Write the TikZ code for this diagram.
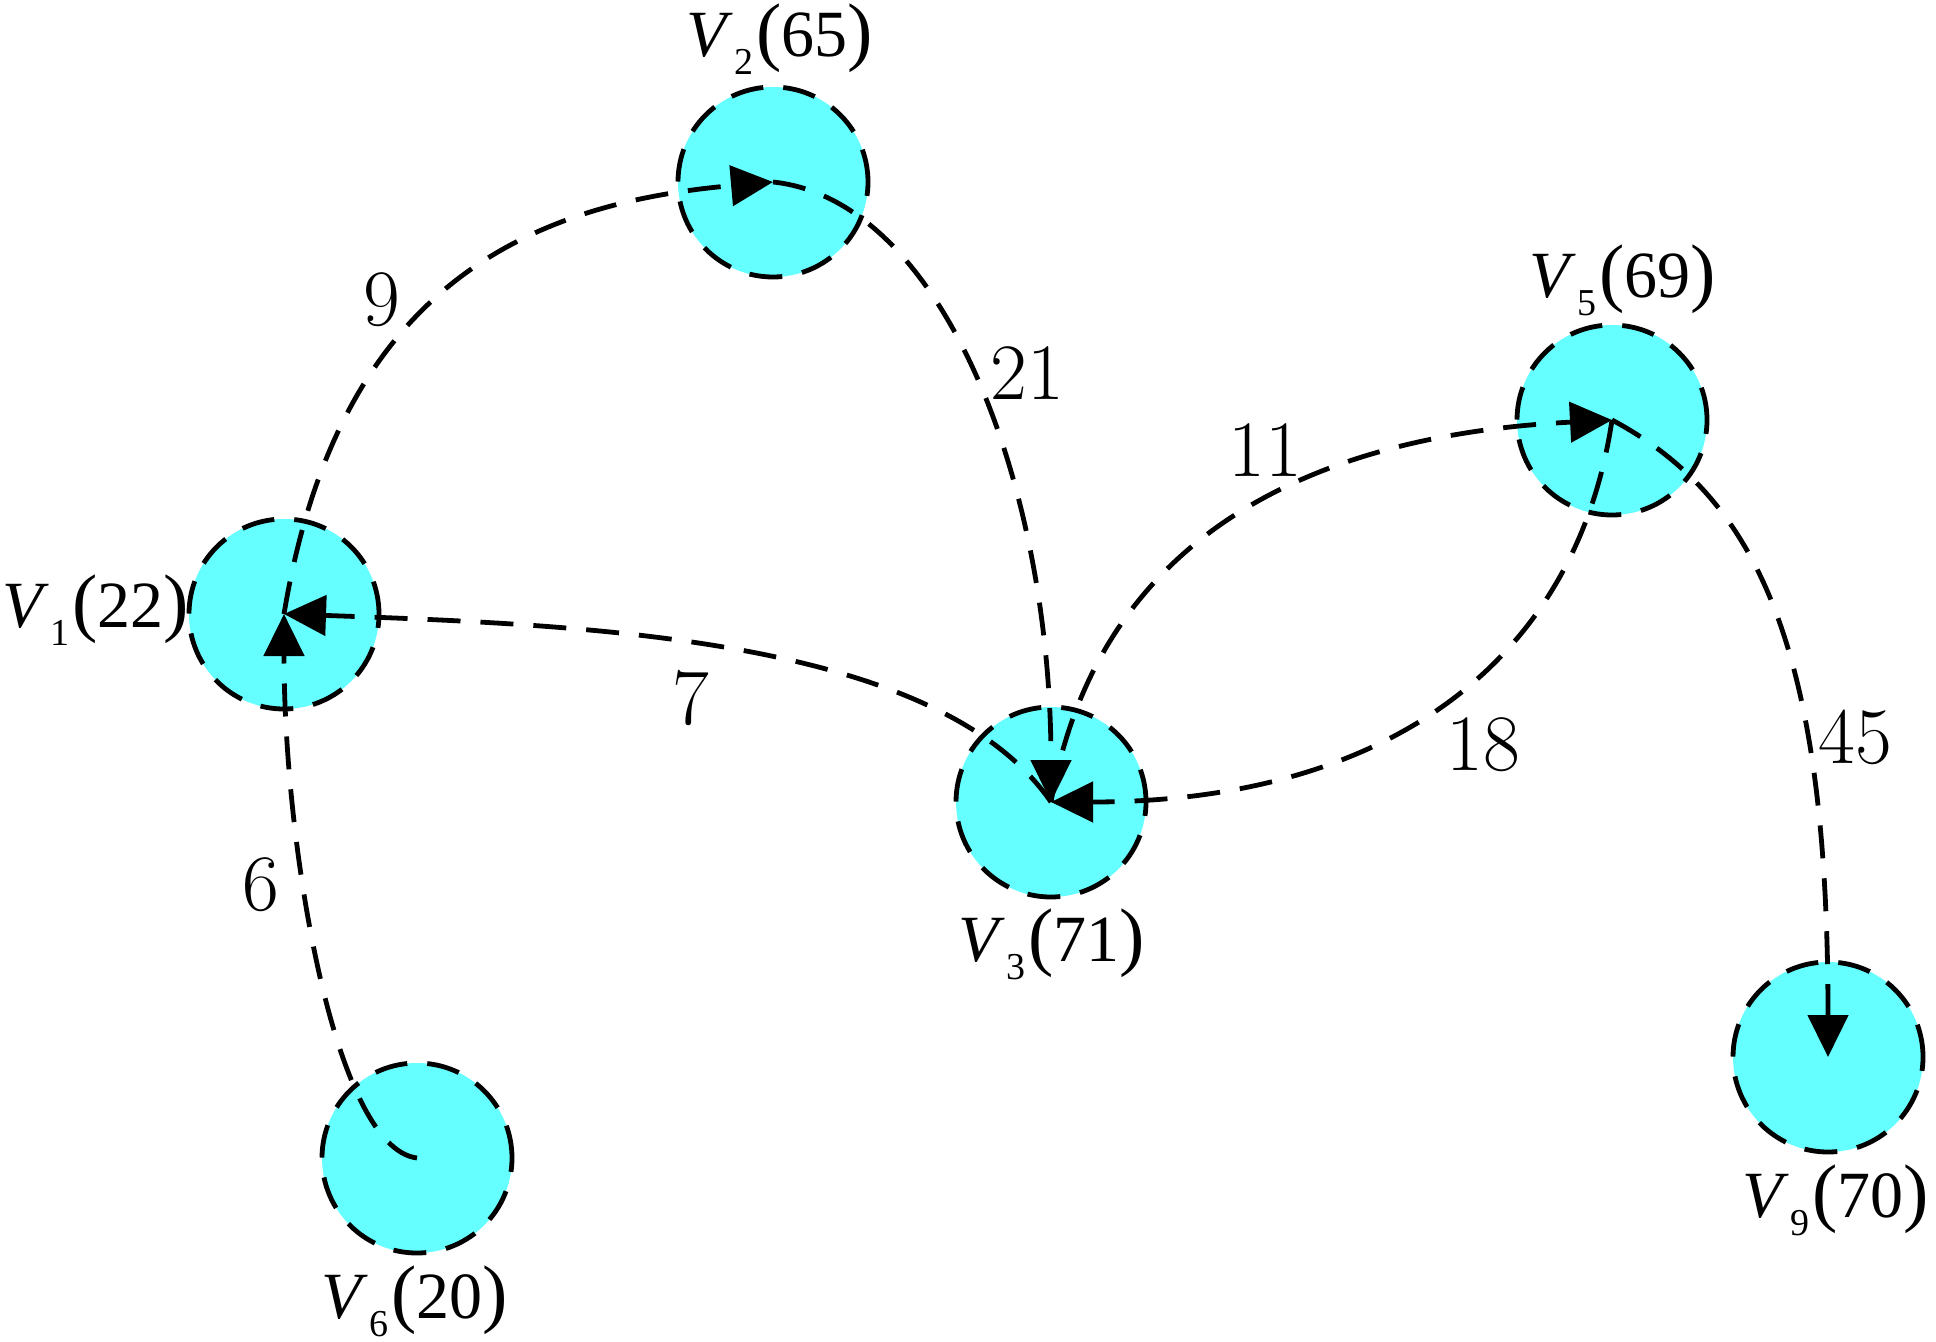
\documentclass[tikz,border=0pt]{standalone}
\usepackage{fontspec}
\newfontfamily\nlfont{Liberation Serif}
\usetikzlibrary{arrows.meta}
\definecolor{nodecyan}{RGB}{102,255,255}
\newcommand{\vlab}[2]{{\nlfont\fontsize{33}{33}\selectfont\textit{V}\kern0.5pt\raisebox{-9pt}{\fontsize{19}{19}\selectfont #1}\kern1.5pt{\fontsize{38}{38}\selectfont(}#2{\fontsize{38}{38}\selectfont)}}}
\begin{document}
\begin{tikzpicture}[x=0.5pt,y=-0.5pt,
  vert/.style={circle, draw=black, fill=nodecyan, line width=2.4pt, dash pattern=on 16.5pt off 10pt, minimum size=95pt, inner sep=0pt},
  edgeline/.style={line width=2.4pt, dash pattern=on 16.5pt off 10pt, -{Triangle[length=21pt,width=20pt]}},
  wlab/.style={font=\fontsize{40}{40}\selectfont, inner sep=0pt},
  vlabel/.style={inner sep=0pt, anchor=base}]
\useasboundingbox[fill=white] (0,0) rectangle (1936,1342);
% vertices
\node[vert] (V1) at (284,614) {};
\node[vert] (V2) at (773,182) {};
\node[vert] (V3) at (1051,802) {};
\node[vert] (V5) at (1612,420) {};
\node[vert] (V6) at (417,1158) {};
\node[vert] (V9) at (1828,1057) {};
% vertex labels
\node[vlabel] (L1) at (96,627) {\vlab{1}{22}};
\node[vlabel] (L2) at (780,57) {\vlab{2}{65}};
\node[vlabel] (L3) at (1052,961) {\vlab{3}{71}};
\node[vlabel] (L5) at (1623,298) {\vlab{5}{69}};
\node[vlabel] (L6) at (415,1318) {\vlab{6}{20}};
\node[vlabel] (L9) at (1836,1217) {\vlab{9}{70}};
% edges
\draw[edgeline] (V1.center) .. controls +(54,-325) and +(-249,22) .. (V2.center);
\draw[edgeline] (V2.center) .. controls +(169,18) and +(0,-320) .. (V3.center);
\draw[edgeline] (V3.center) .. controls +(-112,-162) and +(316,11) .. (V1.center);
\draw[edgeline] (V6.center) .. controls +(-82,-10) and +(0,236) .. (V1.center);
\draw[edgeline] (V3.center) .. controls +(43,-245) and +(-330,17) .. (V5.center);
\draw[edgeline] (V5.center) .. controls +(-37,247) and +(330,0) .. (V3.center);
\draw[edgeline] (V5.center) .. controls +(150,80) and +(0,-400) .. (V9.center);
% edge weights
\node[wlab] (w9) at (382,300) {9};
\node[wlab] (w21) at (1027,373) {21};
\node[wlab] (w7) at (691,698) {7};
\node[wlab] (w6) at (261,885) {6};
\node[wlab] (w11) at (1265,450) {11};
\node[wlab] (w18) at (1483,745) {18};
\node[wlab] (w45) at (1855,737) {45};
\end{tikzpicture}
\end{document}
